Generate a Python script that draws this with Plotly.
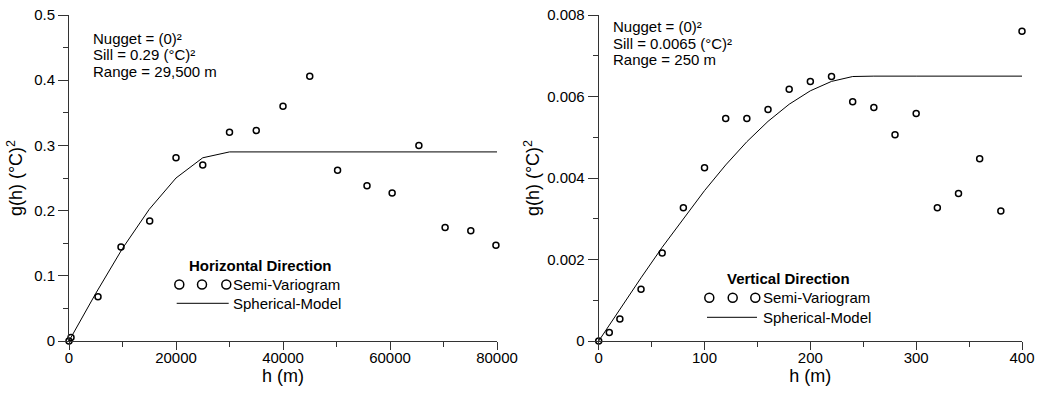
import plotly.graph_objects as go
from plotly.subplots import make_subplots

# ---------------- data ----------------
h_lag = [0, 374, 5420, 9720, 15080, 20000, 25000, 30000, 35000, 40000, 45000,
         50200, 55700, 60400, 65400, 70300, 75100, 79800]
h_gamma = [0, 0.0055, 0.068, 0.144, 0.184, 0.281, 0.270, 0.320, 0.323, 0.360, 0.406,
           0.262, 0.238, 0.227, 0.300, 0.174, 0.169, 0.147]
h_model_x = [0, 5000, 10000, 15000, 20000, 25000, 30000, 40000, 50000, 60000, 70000, 80000]
h_model_y = [0, 0.073, 0.142, 0.202, 0.250, 0.281, 0.290, 0.290, 0.290, 0.290, 0.290, 0.290]

v_lag = [0, 10, 20, 40, 60, 80, 100, 120, 140, 160, 180, 200, 220, 240, 260, 280, 300,
         320, 340, 360, 380, 400]
v_gamma = [0, 0.00021, 0.00054, 0.00127, 0.00216, 0.00327, 0.00425, 0.00546, 0.00546,
           0.00568, 0.00618, 0.00637, 0.00649, 0.00587, 0.00573, 0.00506, 0.00558,
           0.00327, 0.00362, 0.00447, 0.00319, 0.00760]
v_model_x = [0, 20, 40, 60, 80, 100, 120, 140, 160, 180, 200, 220, 240, 260, 300, 350, 400]
v_model_y = [0, 0.00078, 0.00155, 0.00230, 0.00301, 0.00369, 0.00432, 0.00489, 0.00539,
             0.00581, 0.00614, 0.00637, 0.00649, 0.0065, 0.0065, 0.0065, 0.0065]

h_notes = ["Nugget = (0)²", "Sill = 0.29 (°C)²", "Range = 29,500 m"]
v_notes = ["Nugget = (0)²", "Sill = 0.0065 (°C)²", "Range = 250 m"]
h_title = "Horizontal Direction"
v_title = "Vertical Direction"
legend_items = ["Semi-Variogram", "Spherical-Model"]

# ---------------- layout helpers ----------------
W, H = 1037, 397
T = 15
B = H - 341
PH = H - T - B
FONT = "Arial, Liberation Sans, sans-serif"
AX = "#333333"


def px(x):
    return x / W


def py(y):
    return (H - B - y) / PH


fig = make_subplots(rows=1, cols=2)

for col, (xs, ys, mx, my) in enumerate([(h_lag, h_gamma, h_model_x, h_model_y),
                                        (v_lag, v_gamma, v_model_x, v_model_y)], start=1):
    fig.add_trace(go.Scatter(x=mx, y=my, mode="lines",
                             line=dict(color="black", width=1),
                             showlegend=False, cliponaxis=False), row=1, col=col)
    fig.add_trace(go.Scatter(x=xs, y=ys, mode="markers",
                             marker=dict(symbol="circle-open", size=6, color="black",
                                         line=dict(width=1.5, color="black")),
                             showlegend=False, cliponaxis=False), row=1, col=col)

common = dict(showgrid=False, zeroline=False, showline=True, linecolor=AX, linewidth=1,
              ticks="outside", tickcolor=AX, tickwidth=1, automargin=False,
              ticklabeloverflow="allow",
              tickfont=dict(family=FONT, size=15, color="black"))
xcommon = dict(common, ticklen=8, ticklabelstandoff=-5)
ycommon = dict(common, ticklen=10)

fig.update_xaxes(domain=[px(69), px(497)], range=[0, 80000], dtick=20000, tickformat="d",
                 minor=dict(ticks="outside", ticklen=5, dtick=10000, tickcolor=AX),
                 title=dict(text="h (m)", font=dict(family=FONT, size=18, color="black"),
                            standoff=3), row=1, col=1, **xcommon)
fig.update_xaxes(domain=[px(598.7), px(1022)], range=[0, 400], dtick=100,
                 minor=dict(ticks="outside", ticklen=5, dtick=50, tickcolor=AX),
                 title=dict(text="h (m)", font=dict(family=FONT, size=18, color="black"),
                            standoff=3), row=1, col=2, **xcommon)
ytitle = "g(h) (°C)<sup>2</sup>"
fig.update_yaxes(domain=[0, 1], range=[0, 0.5], dtick=0.1,
                 minor=dict(ticks="outside", ticklen=5, dtick=0.05, tickcolor=AX),
                 title=dict(text=ytitle, font=dict(family=FONT, size=18, color="black"),
                            standoff=6), row=1, col=1, **ycommon)
fig.update_yaxes(domain=[0, 1], range=[0, 0.008], dtick=0.002,
                 minor=dict(ticks="outside", ticklen=5, dtick=0.001, tickcolor=AX),
                 title=dict(text=ytitle, font=dict(family=FONT, size=18, color="black"),
                            standoff=2), row=1, col=2, **ycommon)

annotations = []
shapes = []


def note_block(lines, x0, y0, dy):
    for i, t in enumerate(lines):
        annotations.append(dict(text=t, x=px(x0), y=py(y0 + i * dy), xref="paper", yref="paper",
                                xanchor="left", yanchor="middle", showarrow=False,
                                font=dict(family=FONT, size=15, color="black")))


note_block(h_notes, 91, 38.3, 16.7)
note_block(v_notes, 611, 26.6, 16.7)


def legend_block(title, tcx, ty, circ_x, line_x0, line_x1, text_x, dy):
    annotations.append(dict(text="<b>" + title + "</b>", x=px(tcx), y=py(ty), xref="paper",
                            yref="paper", xanchor="center", yanchor="middle", showarrow=False,
                            font=dict(family=FONT, size=15, color="black")))
    r = 4.5
    for cx in circ_x:
        shapes.append(dict(type="circle", xref="paper", yref="paper",
                           x0=px(cx - r), x1=px(cx + r), y0=py(ty + dy - r), y1=py(ty + dy + r),
                           line=dict(color="black", width=1.5)))
    shapes.append(dict(type="line", xref="paper", yref="paper",
                       x0=px(line_x0), x1=px(line_x1), y0=py(ty + 2 * dy), y1=py(ty + 2 * dy),
                       line=dict(color="black", width=1)))
    for i, t in enumerate(legend_items):
        annotations.append(dict(text=t, x=px(text_x), y=py(ty + (i + 1) * dy), xref="paper",
                                yref="paper", xanchor="left", yanchor="middle", showarrow=False,
                                font=dict(family=FONT, size=15, color="black")))


legend_block(h_title, 260, 265.7, [179.3, 202, 226.3], 176.7, 228.7, 230.5, 18.8)
legend_block(v_title, 788.5, 278.3, [709.3, 732.7, 755.3], 707, 757, 760.5, 19.5)

fig.update_layout(width=W, height=H, margin=dict(l=0, r=0, t=T, b=B, autoexpand=False),
                  plot_bgcolor="white", paper_bgcolor="white",
                  annotations=annotations, shapes=shapes, showlegend=False,
                  font=dict(family=FONT, color="black"))

# remove the browser's default 8px body margin so the figure sits at the page origin
fig.write_html("out.html",
               config={"displayModeBar": False},
               post_script="document.body.style.margin='0';"
                           "document.documentElement.style.overflow='hidden';")
